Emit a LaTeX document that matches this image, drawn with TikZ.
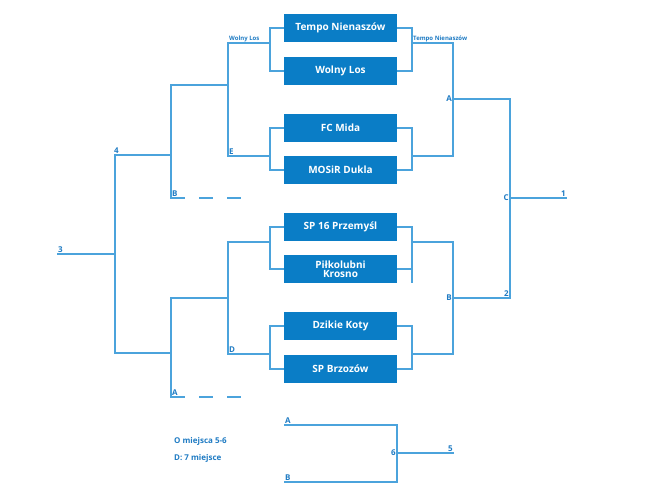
\documentclass[tikz,border=0pt]{standalone}
\usepackage{fontspec}
\setmainfont{Open Sans}
\begin{document}
\begin{tikzpicture}[x=1pt,y=-1pt,
  ln/.style={draw=lineblue,line width=1.1pt},
  box/.style={fill=boxblue,text=white,minimum width=113pt,minimum height=28pt,inner sep=0pt,font=\bfseries\fontsize{10}{10.5}\selectfont,align=center},
  lab/.style={text=textblue,font=\bfseries\fontsize{8}{9}\selectfont,inner sep=1pt},
  small/.style={text=textblue,font=\bfseries\fontsize{6}{7}\selectfont,inner sep=1pt}]
\definecolor{boxblue}{HTML}{0A7DC6}
\definecolor{lineblue}{HTML}{4BA3DC}
\definecolor{textblue}{HTML}{1F7BC3}
\useasboundingbox (0,0) rectangle (670,500);
\node[box] (t1) at (340.5,28) {Tempo Nienaszów};
\node[box] (t2) at (340.5,71) {Wolny Los};
\node[box] (t3) at (340.5,128) {FC Mida};
\node[box] (t4) at (340.5,170) {MOSiR Dukla};
\node[box] (t5) at (340.5,227) {SP 16 Przemyśl};
\node[box] (t6) at (340.5,269) {Piłkolubni\\[-2pt]Krosno};
\node[box] (t7) at (340.5,326) {Dzikie Koty};
\node[box] (t8) at (340.5,369) {SP Brzozów};
% left brackets
\draw[ln] (t1.west) -- (270,28) -- (270,71) -- (t2.west);
\draw[ln] (t3.west) -- (270,128) -- (270,170) -- (t4.west);
\draw[ln] (t5.west) -- (270,227) -- (270,269) -- (t6.west);
\draw[ln] (t7.west) -- (270,326) -- (270,369) -- (t8.west);
\draw[ln] (270,43) -- (228,43) -- (228,156) -- (270,156);
\draw[ln] (270,242) -- (228,242) -- (228,354) -- (270,354);
\draw[ln] (228,85) -- (171,85) -- (171,198) -- (185,198);
\draw[ln] (228,298) -- (171,298) -- (171,397) -- (185,397);
\draw[ln] (199,198) -- (213,198) (227,198) -- (241,198);
\draw[ln] (199,397) -- (213,397) (227,397) -- (241,397);
\draw[ln] (171,155) -- (115,155) -- (115,353) -- (171,353);
\draw[ln] (115,254) -- (57,254);
% right brackets
\draw[ln] (t1.east) -- (412,28) -- (412,71) -- (t2.east);
\draw[ln] (t3.east) -- (412,128) -- (412,170) -- (t4.east);
\draw[ln] (t5.east) -- (412,227) -- (412,283);
\draw[ln] (t6.east) -- (412,269);
\draw[ln] (t7.east) -- (412,326) -- (412,369) -- (t8.east);
\draw[ln] (412,43) -- (453,43) -- (453,156) -- (412,156);
\draw[ln] (412,242) -- (453,242) -- (453,354) -- (412,354);
\draw[ln] (453,99) -- (510,99) -- (510,298) -- (453,298);
\draw[ln] (510,198) -- (567,198);
% bottom
\draw[ln] (284,425) -- (397,425) -- (397,482) -- (284,482);
\draw[ln] (397,453) -- (454,453);
% labels
\node[small,anchor=south west] at (228,43) {Wolny Los};
\node[small,anchor=south west] at (412,43) {Tempo Nienaszów};
\node[lab,anchor=south west] at (228,156) {E};
\node[lab,anchor=south west] at (228,354) {D};
\node[lab,anchor=south west] at (171,198) {B};
\node[lab,anchor=south west] at (171,397) {A};
\node[lab,anchor=south east] at (120,155) {4};
\node[lab,anchor=south west] at (57,254) {3};
\node[lab,anchor=east] at (453,99) {A};
\node[lab,anchor=east] at (453,298) {B};
\node[lab,anchor=east] at (510,198) {C};
\node[lab,anchor=south east] at (510,298) {2};
\node[lab,anchor=south east] at (567,198) {1};
\node[lab,anchor=east] at (397,453) {6};
\node[lab,anchor=south east] at (454,453) {5};
\node[lab,anchor=south west] at (284,425) {A};
\node[lab,anchor=south west] at (284,482) {B};
\node[lab,anchor=west] at (173,441) {O miejsca 5-6};
\node[lab,anchor=west] at (173,458) {D: 7 miejsce};
\end{tikzpicture}
\end{document}
